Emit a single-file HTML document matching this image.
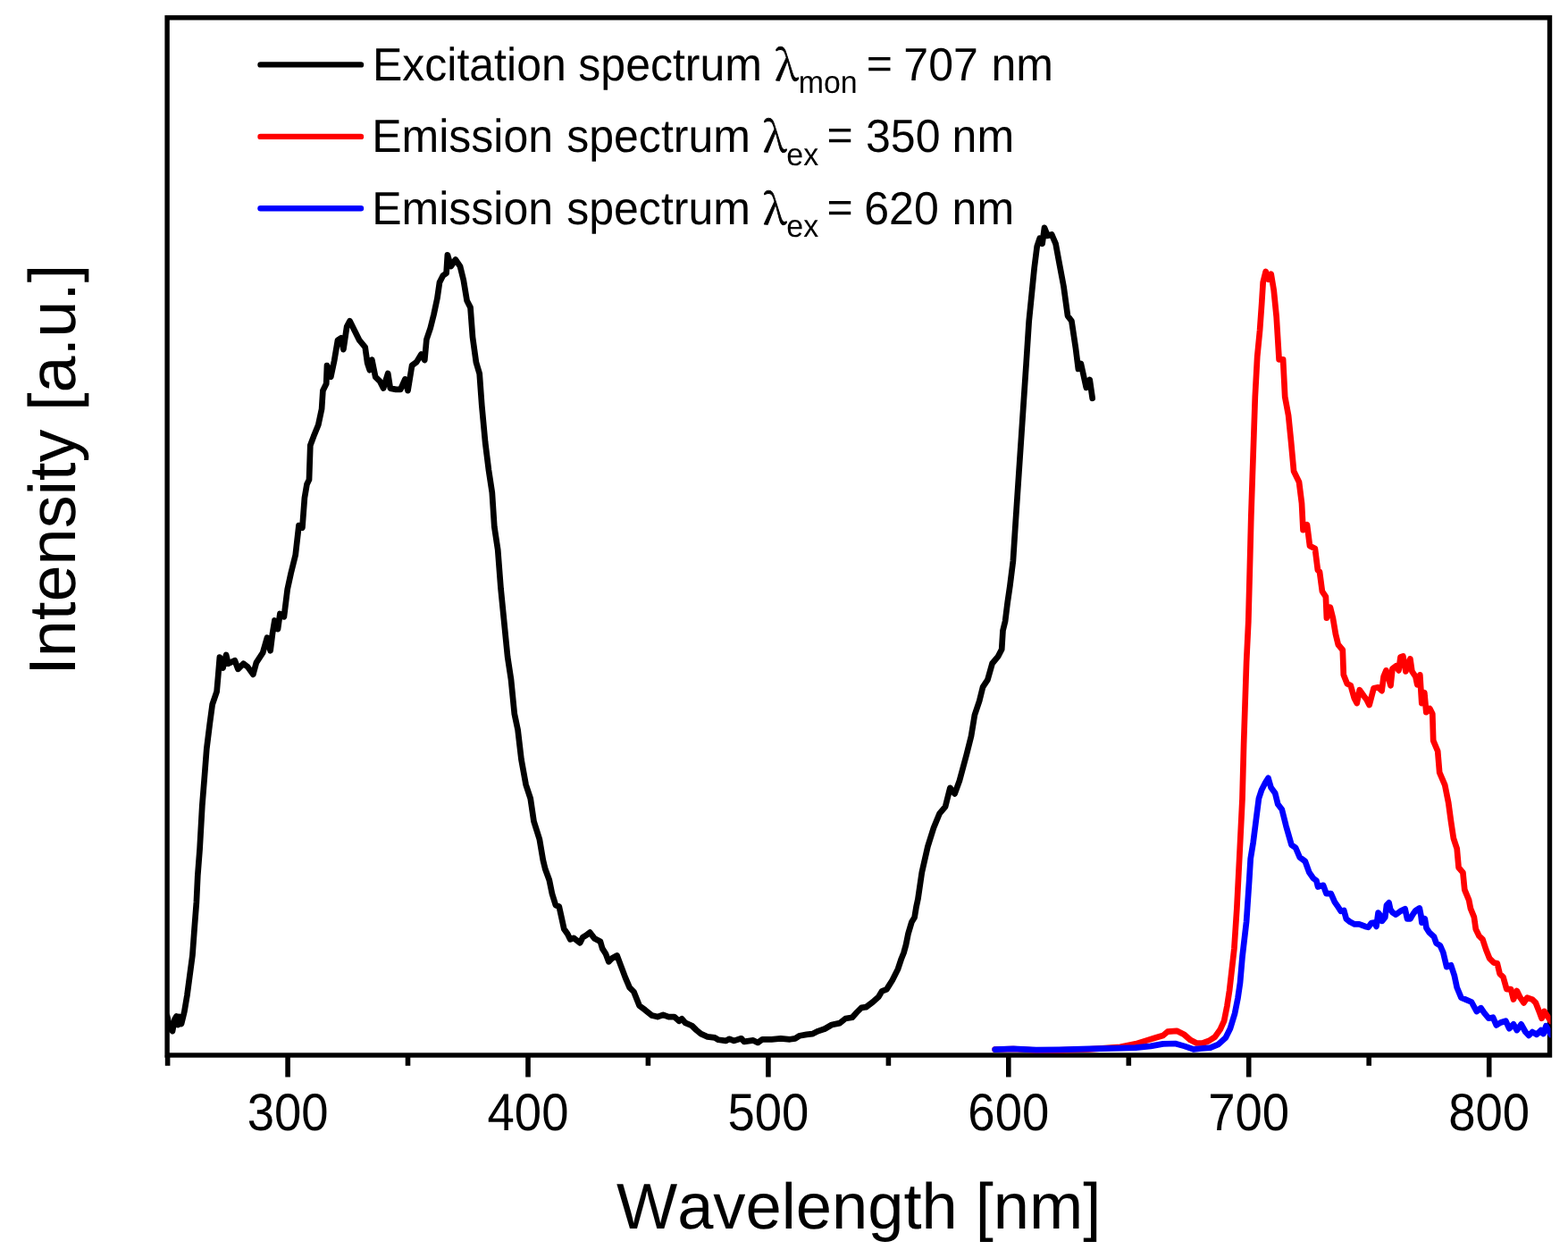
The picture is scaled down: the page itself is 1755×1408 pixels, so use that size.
<!DOCTYPE html>
<html><head><meta charset="utf-8"><title>Excitation and emission spectra</title>
<style>html,body{margin:0;padding:0;background:#fff;overflow:hidden}svg{display:block}</style></head>
<body><svg width="1755" height="1408" viewBox="0 0 1755 1408" font-family="'Liberation Sans', Arial, sans-serif" style="font-kerning:none" text-rendering="geometricPrecision">
<rect width="1755" height="1408" fill="#fff"/>
<defs><clipPath id="c"><rect x="187" y="19.8" width="1548.5" height="1161.2"/></clipPath></defs>
<rect x="187.1" y="19.8" width="1547.4" height="1161.2" fill="none" stroke="#000" stroke-width="5.4"/>
<g stroke="#000" stroke-width="5.6"><line x1="187.6" y1="1181" x2="187.6" y2="1192.8"/><line x1="322.1" y1="1181" x2="322.1" y2="1205.5"/><line x1="456.5" y1="1181" x2="456.5" y2="1192.8"/><line x1="591.0" y1="1181" x2="591.0" y2="1205.5"/><line x1="725.4" y1="1181" x2="725.4" y2="1192.8"/><line x1="859.9" y1="1181" x2="859.9" y2="1205.5"/><line x1="994.4" y1="1181" x2="994.4" y2="1192.8"/><line x1="1128.8" y1="1181" x2="1128.8" y2="1205.5"/><line x1="1263.3" y1="1181" x2="1263.3" y2="1192.8"/><line x1="1397.7" y1="1181" x2="1397.7" y2="1205.5"/><line x1="1532.2" y1="1181" x2="1532.2" y2="1192.8"/><line x1="1666.7" y1="1181" x2="1666.7" y2="1205.5"/></g>
<g clip-path="url(#c)" fill="none" stroke-width="6.7" stroke-linejoin="round" stroke-linecap="round">
<polyline stroke="#000" points="187.0,1137.0 190.0,1150.0 193.0,1154.0 195.5,1141.0 197.5,1137.5 199.5,1147.0 201.0,1138.0 203.0,1146.0 205.0,1138.0 206.4,1132.0 209.4,1114.2 212.4,1091.8 215.4,1069.4 217.6,1039.6 219.9,1009.7 221.3,979.9 223.6,950.0 226.3,902.0 229.1,866.7 231.3,838.0 234.8,809.8 237.7,788.4 242.6,774.2 244.3,755.0 245.9,735.5 249.5,747.6 253.1,733.0 255.5,742.8 262.8,739.2 266.4,748.8 272.4,742.8 277.2,746.4 283.3,754.9 286.9,741.6 294.1,730.7 299.0,713.8 302.6,728.3 305.0,709.0 307.4,694.5 311.0,704.0 313.4,687.0 317.9,690.3 321.7,659.6 325.6,641.7 330.7,621.3 334.5,588.0 338.4,590.6 340.9,557.3 343.5,542.0 346.0,536.9 347.3,498.5 351.1,488.3 356.3,475.5 360.1,457.6 361.4,437.2 365.2,429.5 366.0,409.0 370.3,421.8 374.1,403.9 378.0,380.9 381.8,378.4 384.4,391.1 388.2,365.6 391.5,359.2 397.2,370.7 402.3,380.9 408.7,388.6 411.2,406.5 413.8,414.2 416.3,402.6 420.2,421.8 425.3,426.9 429.1,434.6 434.2,418.0 436.8,434.6 443.2,435.9 448.3,435.9 453.4,424.4 456.5,437.2 461.1,409.0 466.2,405.2 471.5,396.6 475.3,403.0 477.4,380.0 481.7,367.2 485.6,351.8 489.4,333.9 492.0,316.0 495.8,308.4 499.6,305.8 500.9,285.3 504.7,298.1 509.9,290.5 515.0,298.1 518.8,313.5 522.6,336.5 526.5,344.1 529.0,377.4 532.9,405.5 536.7,418.3 539.3,454.1 543.1,495.0 546.9,525.7 550.8,551.3 553.3,589.6 557.2,615.2 560.5,658.4 564.3,696.7 568.1,735.0 572.0,760.6 575.8,799.0 579.6,816.9 583.5,850.1 588.6,878.2 593.7,893.6 597.5,919.2 603.9,939.6 607.8,962.6 610.2,972.5 614.8,985.0 618.0,1000.6 621.9,1013.1 625.8,1014.7 628.9,1028.8 631.3,1039.7 635.2,1045.2 638.3,1051.4 642.2,1049.8 649.2,1055.3 652.3,1049.1 656.3,1046.7 660.2,1043.6 665.6,1050.6 671.9,1053.8 674.2,1061.6 678.1,1067.8 681.3,1076.4 685.2,1072.5 690.6,1069.4 695.3,1081.9 700.0,1094.4 704.7,1105.3 709.4,1110.0 715.6,1125.6 721.9,1130.3 729.7,1136.6 735.9,1138.1 742.2,1135.8 748.4,1138.1 754.7,1138.1 760.0,1142.8 763.1,1140.3 767.2,1144.9 774.4,1148.0 779.5,1153.0 784.6,1157.2 791.8,1160.3 800.0,1161.3 804.1,1163.8 812.3,1164.9 816.4,1162.8 821.5,1164.9 829.7,1162.3 832.8,1165.9 843.1,1164.4 848.2,1166.9 853.3,1163.3 863.6,1163.3 873.8,1162.3 884.1,1163.3 890.0,1162.4 895.1,1159.2 902.8,1157.9 909.2,1157.2 915.6,1154.1 923.2,1151.5 930.9,1147.0 939.9,1145.1 946.3,1140.0 953.9,1138.7 959.0,1133.0 964.2,1127.8 969.3,1127.2 976.9,1121.5 983.3,1115.7 987.2,1109.3 992.3,1107.4 998.7,1097.2 1005.1,1084.4 1008.9,1072.9 1011.5,1066.5 1014.0,1057.5 1016.6,1044.7 1020.4,1032.0 1023.6,1026.8 1025.5,1015.3 1027.4,1006.4 1031.8,976.4 1038.4,947.5 1045.0,926.5 1051.5,910.7 1058.1,902.8 1063.4,881.8 1068.6,888.4 1073.9,873.9 1081.7,845.0 1087.0,824.0 1090.9,800.3 1096.2,784.5 1100.1,768.8 1105.4,760.9 1110.6,742.5 1117.2,734.6 1121.2,726.7 1122.5,705.7 1125.1,695.2 1127.7,674.2 1130.4,655.8 1133.9,627.8 1136.8,583.1 1139.8,538.3 1142.8,493.6 1145.8,448.8 1148.8,404.1 1151.7,359.3 1154.7,329.5 1157.7,299.7 1160.7,275.8 1163.7,266.8 1166.6,272.8 1169.0,254.9 1172.6,263.9 1177.1,262.4 1181.6,272.8 1186.0,296.7 1190.5,320.5 1195.0,353.4 1199.4,359.3 1203.9,389.2 1206.9,413.0 1209.9,407.1 1215.8,433.9 1219.7,425.0 1222.7,445.8"/>
<polyline stroke="#f00" points="1113.7,1174.7 1134.2,1174.0 1159.8,1175.5 1185.5,1175.3 1219.7,1174.3 1253.8,1171.8 1270.9,1168.4 1284.6,1164.1 1293.2,1161.5 1301.7,1159.0 1306.8,1154.7 1317.1,1153.8 1325.6,1158.1 1332.5,1164.1 1339.3,1167.5 1346.2,1167.5 1353.0,1165.0 1359.8,1160.7 1365.8,1152.1 1370.1,1142.7 1373.5,1125.6 1376.1,1108.5 1381.4,1061.8 1384.4,1016.0 1387.5,954.9 1390.5,893.8 1392.1,832.7 1393.6,786.9 1395.1,741.1 1397.3,695.3 1398.8,638.0 1400.3,578.3 1401.8,533.6 1403.3,488.8 1404.8,444.1 1407.2,399.3 1410.1,369.5 1412.2,339.7 1413.7,315.8 1416.7,303.9 1419.7,312.8 1422.7,306.8 1425.7,324.7 1428.7,354.6 1431.6,402.3 1436.1,402.3 1438.2,444.1 1442.1,465.0 1445.1,494.8 1448.1,527.6 1454.0,539.5 1457.0,563.4 1458.5,593.2 1463.0,587.3 1466.0,611.1 1471.9,614.1 1474.9,638.0 1477.0,640.0 1479.9,661.9 1483.9,667.8 1484.9,691.7 1488.9,679.8 1491.9,691.7 1494.9,709.6 1497.8,721.5 1502.8,727.5 1503.8,755.3 1507.8,765.3 1511.8,767.3 1515.7,781.2 1518.7,787.1 1521.7,772.2 1526.7,779.2 1529.7,783.2 1532.6,789.1 1537.6,770.2 1542.6,769.3 1546.6,773.2 1548.6,757.3 1551.5,750.4 1556.5,767.3 1558.5,748.4 1562.5,745.4 1565.5,750.4 1567.5,735.4 1570.4,734.5 1573.4,751.4 1578.4,737.4 1580.4,751.4 1584.4,757.3 1586.3,766.3 1589.3,755.3 1591.3,787.1 1594.3,775.2 1596.3,797.1 1600.3,793.1 1603.3,799.1 1604.2,828.9 1609.2,840.8 1611.2,864.7 1617.2,878.6 1621.2,898.5 1624.0,919.2 1626.9,938.4 1630.7,949.9 1632.6,971.0 1637.4,976.7 1639.3,995.9 1644.1,1007.4 1646.0,1017.0 1649.9,1026.6 1651.8,1040.0 1655.6,1047.7 1659.5,1051.5 1663.3,1063.0 1667.1,1072.6 1671.9,1077.4 1675.8,1078.3 1678.6,1089.8 1682.5,1093.7 1686.3,1107.1 1691.1,1107.1 1694.0,1118.6 1697.8,1109.0 1701.6,1116.7 1705.5,1122.4 1709.3,1116.7 1715.1,1118.6 1718.9,1122.4 1722.7,1132.0 1725.6,1139.7 1728.5,1132.0 1732.3,1137.8 1736.0,1143.0"/>
<polyline stroke="#00f" points="1113.7,1174.7 1134.2,1173.8 1159.8,1175.2 1185.5,1174.9 1219.7,1173.8 1253.8,1173.2 1270.9,1172.6 1288.0,1170.9 1301.7,1168.4 1315.4,1168.0 1325.6,1170.9 1335.9,1174.4 1344.4,1173.5 1354.7,1172.6 1363.2,1169.2 1371.8,1161.5 1376.9,1151.3 1382.1,1134.2 1385.5,1117.1 1388.0,1100.0 1390.5,1071.0 1395.1,1031.3 1398.2,985.4 1399.7,961.0 1402.7,942.7 1405.8,918.2 1408.9,893.8 1411.9,884.6 1416.5,875.5 1419.5,870.9 1422.6,881.6 1427.2,887.7 1430.2,899.9 1434.8,906.0 1439.4,924.3 1445.5,945.7 1450.1,948.8 1454.7,959.5 1460.8,964.0 1465.3,976.3 1470.0,983.1 1473.4,985.6 1475.1,992.5 1481.1,990.8 1484.5,1000.2 1489.7,1000.2 1493.9,1009.6 1497.4,1014.7 1500.8,1019.8 1504.2,1019.0 1506.8,1028.4 1511.0,1031.8 1516.2,1034.4 1521.3,1034.4 1528.1,1036.9 1531.5,1037.8 1535.0,1033.1 1538.4,1032.6 1540.5,1036.9 1542.6,1021.5 1545.2,1025.0 1546.9,1030.9 1550.3,1026.7 1552.0,1013.0 1554.6,1010.4 1556.3,1018.1 1558.9,1021.5 1562.3,1023.7 1567.4,1019.8 1572.6,1017.3 1575.1,1028.4 1578.5,1028.4 1582.0,1022.4 1584.5,1019.0 1588.8,1016.4 1590.5,1025.0 1591.4,1032.6 1594.8,1028.4 1596.5,1038.6 1599.9,1043.8 1605.0,1048.5 1607.6,1055.7 1611.9,1058.3 1615.3,1066.0 1619.2,1082.2 1624.0,1080.3 1627.8,1091.7 1630.7,1105.2 1635.5,1116.7 1640.3,1118.6 1647.0,1121.5 1652.7,1132.0 1657.5,1128.2 1661.4,1133.9 1666.2,1139.7 1671.0,1138.7 1674.8,1147.4 1679.6,1144.5 1685.3,1142.6 1689.2,1151.2 1694.0,1146.4 1697.8,1153.1 1702.6,1146.4 1707.4,1155.0 1711.2,1158.9 1715.1,1155.0 1719.9,1157.9 1724.7,1153.1 1727.5,1157.0 1730.4,1148.3 1736.0,1158.0"/>
</g>
<g font-size="58.8" fill="#000"><text transform="translate(322.1,1265.0) scale(0.927,1)" text-anchor="middle">300</text><text transform="translate(591.0,1265.0) scale(0.927,1)" text-anchor="middle">400</text><text transform="translate(859.9,1265.0) scale(0.927,1)" text-anchor="middle">500</text><text transform="translate(1128.8,1265.0) scale(0.927,1)" text-anchor="middle">600</text><text transform="translate(1397.7,1265.0) scale(0.927,1)" text-anchor="middle">700</text><text transform="translate(1666.7,1265.0) scale(0.927,1)" text-anchor="middle">800</text></g>
<text x="689.9" y="1374.7" font-size="72.3">Wavelength [nm]</text>
<text transform="translate(83.7,748.9) rotate(-90)" x="-6.82" font-size="73.9">Intensity [a.u.]</text>
<g stroke-width="6.4" stroke-linecap="round">
<line x1="291.5" y1="72.4" x2="404" y2="72.4" stroke="#000"/>
<line x1="291.5" y1="152.9" x2="404" y2="152.9" stroke="#f00"/>
<line x1="291.5" y1="233.3" x2="404" y2="233.3" stroke="#00f"/>
</g>
<g fill="#000">
<text transform="translate(416.90,89.90) scale(0.962,1)" font-size="52">Excitation</text>
<text transform="translate(647.31,89.90) scale(0.962,1)" font-size="52">spectrum</text>
<text transform="translate(867.57,89.90) scale(0.955,1)" font-size="47" font-family="'Noto Serif CJK SC', 'Liberation Serif', serif" stroke="#000" stroke-width="0.9">λ</text>
<text transform="translate(893.75,103.60) scale(0.955,1)" font-size="35.5">mon</text>
<text transform="translate(969.76,87.35) scale(0.962,0.9)" font-size="52">=</text>
<text transform="translate(1011.33,89.90) scale(0.962,1)" font-size="52">707</text>
<text transform="translate(1109.48,89.90) scale(0.962,1)" font-size="52">nm</text>
<text transform="translate(416.20,170.00) scale(0.962,1)" font-size="52">Emission</text>
<text transform="translate(634.21,170.00) scale(0.962,1)" font-size="52">spectrum</text>
<text transform="translate(854.37,170.00) scale(0.955,1)" font-size="47" font-family="'Noto Serif CJK SC', 'Liberation Serif', serif" stroke="#000" stroke-width="0.9">λ</text>
<text transform="translate(880.36,184.60) scale(0.955,1)" font-size="35.5">ex</text>
<text transform="translate(925.56,167.45) scale(0.962,0.9)" font-size="52">=</text>
<text transform="translate(968.99,170.00) scale(0.962,1)" font-size="52">350</text>
<text transform="translate(1065.58,170.00) scale(0.962,1)" font-size="52">nm</text>
<text transform="translate(416.20,250.60) scale(0.962,1)" font-size="52">Emission</text>
<text transform="translate(634.21,250.60) scale(0.962,1)" font-size="52">spectrum</text>
<text transform="translate(854.37,250.60) scale(0.955,1)" font-size="47" font-family="'Noto Serif CJK SC', 'Liberation Serif', serif" stroke="#000" stroke-width="0.9">λ</text>
<text transform="translate(880.36,264.80) scale(0.955,1)" font-size="35.5">ex</text>
<text transform="translate(925.56,248.05) scale(0.962,0.9)" font-size="52">=</text>
<text transform="translate(967.26,250.60) scale(0.962,1)" font-size="52">620</text>
<text transform="translate(1065.58,250.60) scale(0.962,1)" font-size="52">nm</text>
</g>
</svg></body></html>
